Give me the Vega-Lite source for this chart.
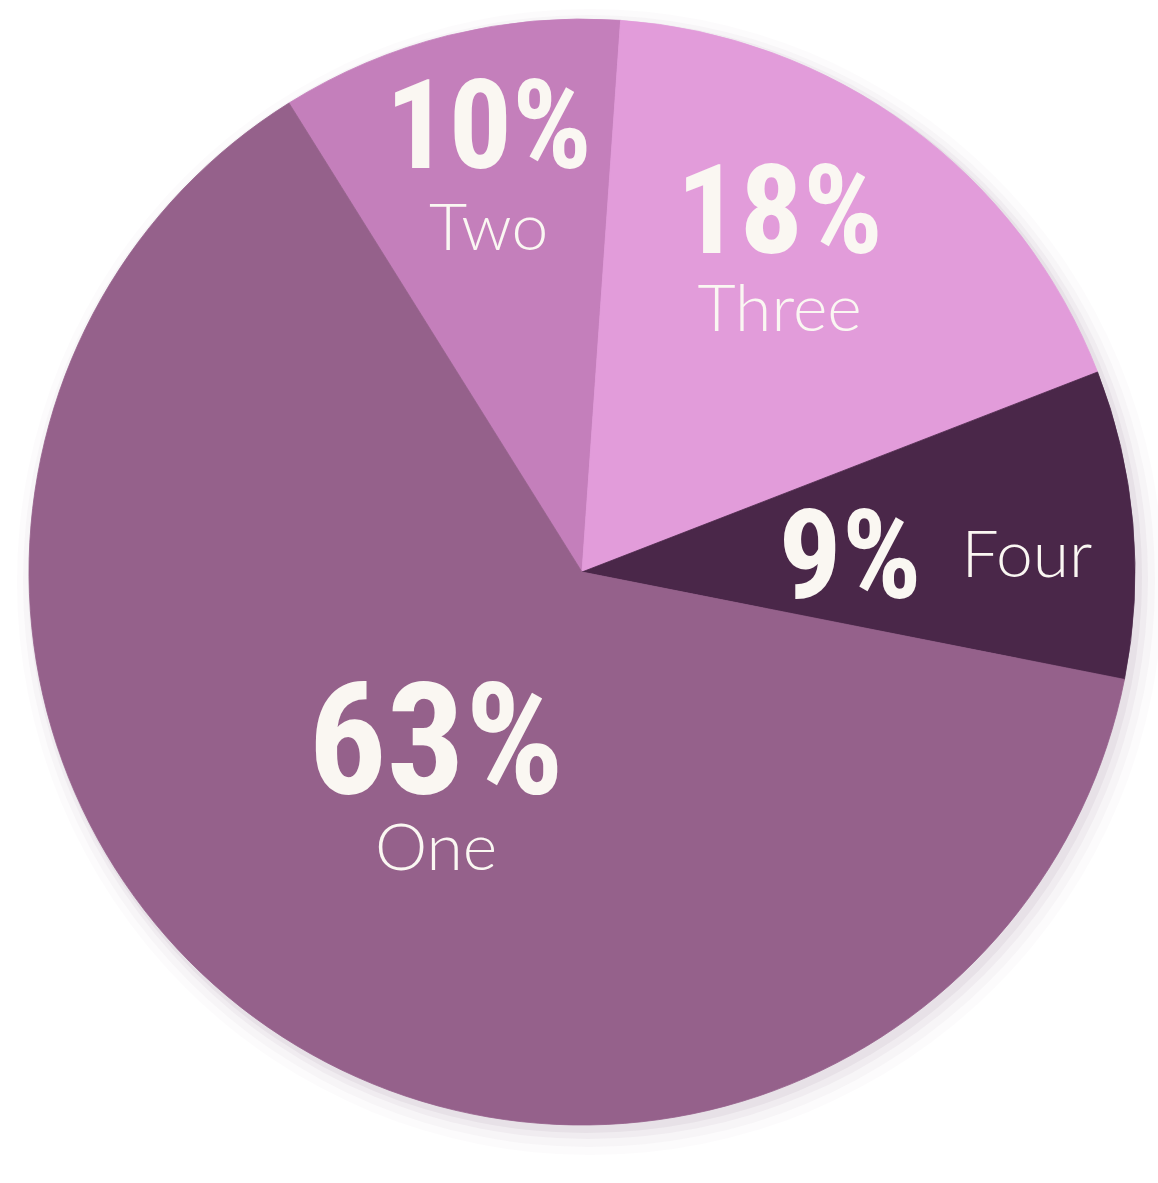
{
  "$schema": "https://vega.github.io/schema/vega-lite/v6.json",
  "width": 1152,
  "height": 1144,
  "autosize": {"type": "none"},
  "padding": {"left": 6, "top": 0, "right": 0, "bottom": 39},
  "background": "white",
  "view": {"stroke": null},
  "data": {"values": [
    {"category": "Two", "share": 0.10},
    {"category": "Three", "share": 0.18},
    {"category": "Four", "share": 0.09},
    {"category": "One", "share": 0.63}
  ]},
  "transform": [{"window": [{"op": "row_number", "as": "rank"}]}],
  "layer": [
    {"transform": [{"aggregate": [{"op": "sum", "field": "share", "as": "total"}]}],
     "mark": {"type": "arc", "theta": 0, "theta2": 6.2832, "outerRadius": 573, "fill": "#6e506c", "opacity": 0.025, "xOffset": 8, "yOffset": 10},
     "encoding": {}},
    {"transform": [{"aggregate": [{"op": "sum", "field": "share", "as": "total"}]}],
     "mark": {"type": "arc", "theta": 0, "theta2": 6.2832, "outerRadius": 566, "fill": "#6e506c", "opacity": 0.035, "xOffset": 7, "yOffset": 9},
     "encoding": {}},
    {"transform": [{"aggregate": [{"op": "sum", "field": "share", "as": "total"}]}],
     "mark": {"type": "arc", "theta": 0, "theta2": 6.2832, "outerRadius": 560, "fill": "#6e506c", "opacity": 0.05, "xOffset": 6, "yOffset": 7},
     "encoding": {}},
    {"transform": [{"aggregate": [{"op": "sum", "field": "share", "as": "total"}]}],
     "mark": {"type": "arc", "theta": 0, "theta2": 6.2832, "outerRadius": 556, "fill": "#6e506c", "opacity": 0.07, "xOffset": 4, "yOffset": 5},
     "encoding": {}},
    {"mark": {"type": "arc", "outerRadius": 553, "strokeWidth": 0.8},
     "encoding": {
       "theta": {"field": "share", "type": "quantitative", "stack": true, "scale": {"range": [-0.5585, 5.7247]}},
       "order": {"field": "rank", "type": "quantitative"},
       "color": {"field": "category", "type": "nominal", "scale": {"domain": ["One", "Two", "Three", "Four"], "range": ["#95618B", "#C47FBB", "#E29CDA", "#4A2749"]}, "legend": null},
       "stroke": {"field": "category", "type": "nominal", "scale": {"domain": ["One", "Two", "Three", "Four"], "range": ["#95618B", "#C47FBB", "#E29CDA", "#4A2749"]}, "legend": null}
     }},
    {"mark": {"type": "text", "font": "Roboto Condensed, Open Sans Condensed, Liberation Sans Narrow, DejaVu Sans Condensed, sans-serif", "fontWeight": "bold", "fill": "#FAF7F2", "baseline": "alphabetic", "align": "center",
       "radius": {"expr": "datum.category === 'One' ? 257 : datum.category === 'Two' ? 386 : datum.category === 'Three' ? 333 : 269"},
       "dy": {"expr": "datum.category === 'One' ? 9 : datum.category === 'Two' ? -29 : datum.category === 'Three' ? -51 : 49"},
       "fontSize": {"expr": "datum.category === 'One' ? 155 : 125"}},
     "encoding": {
       "theta": {"field": "share", "type": "quantitative", "stack": true},
       "order": {"field": "rank", "type": "quantitative"},
       "text": {"field": "share", "type": "quantitative", "format": ".0%"}
     }},
    {"mark": {"type": "text", "font": "Lato", "fontWeight": 300, "fontSize": 66, "fill": "#FAF7F2", "baseline": "alphabetic", "align": "center",
       "radius": {"expr": "datum.category === 'One' ? 257 : datum.category === 'Two' ? 386 : datum.category === 'Three' ? 333 : 269"},
       "dy": {"expr": "datum.category === 'One' ? 86 : datum.category === 'Two' ? 53 : datum.category === 'Three' ? 27 : 28"},
       "dx": {"expr": "datum.category === 'Four' ? 177 : 0"}},
     "encoding": {
       "theta": {"field": "share", "type": "quantitative", "stack": true},
       "order": {"field": "rank", "type": "quantitative"},
       "text": {"field": "category", "type": "nominal"}
     }}
  ]
}
